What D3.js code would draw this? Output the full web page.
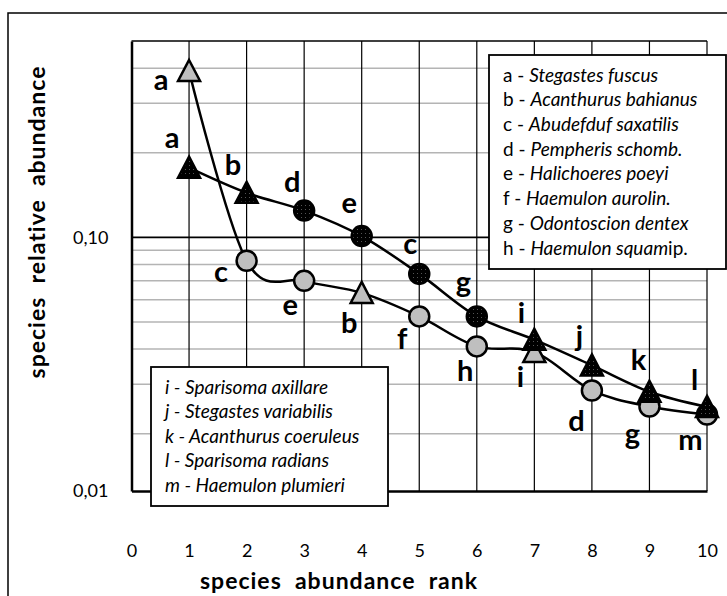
<!DOCTYPE html>
<html><head><meta charset="utf-8">
<script src="https://cdn.jsdelivr.net/npm/d3@7/dist/d3.min.js"></script>
<style>
html,body{margin:0;padding:0;background:#fff;}
svg{display:block;font-family:Lato,"Noto Sans",sans-serif;}
</style></head>
<body>
<svg id="chart" width="727" height="596"></svg>
<script>
// ---- data ----
const ranks = [1,2,3,4,5,6,7,8,9,10];
const seriesDarkValues  = [0.177,0.144,0.1245,0.101,0.0741,0.0523,0.0432,0.0350,0.0282,0.0249];
const seriesDarkLabels  = ["a","b","d","e","c","g","i","j","k","l"];
const seriesDarkShapes  = ["tri","tri","circ","circ","circ","circ","tri","tri","tri","tri"];
const seriesGrayValues  = [0.391,0.0825,0.0700,0.0634,0.0523,0.0409,0.0391,0.0285,0.0250,0.0234];
const seriesGrayLabels  = ["a","c","e","b","f","h","i","d","g","m"];
const seriesGrayShapes  = ["tri","circ","circ","tri","circ","circ","tri","circ","circ","circ"];
const xTickValues = [0,1,2,3,4,5,6,7,8,9,10];
const xTickLabels = ["0","1","2","3","4","5","6","7","8","9","10"];
const yTickValues = [0.0125,0.1];
const yTickLabels = ["0,01","0,10"];
const yMinorGrid = [0.02,0.03,0.04,0.05,0.06,0.07,0.08,0.09,0.2,0.3,0.4];
const yMajorGrid = [0.1];
const legend1Codes = ["a","b","c","d","e","f","g","h"];
const legend1Names = ["Stegastes fuscus","Acanthurus bahianus","Abudefduf saxatilis","Pempheris schomb.","Halichoeres poeyi","Haemulon aurolin.","Odontoscion dentex","Haemulon squam"];
const legend1Suffix = ["","","","","","","","ip."];
const legend2Codes = ["i","j","k","l","m"];
const legend2Names = ["Sparisoma axillare","Stegastes variabilis","Acanthurus coeruleus","Sparisoma radians","Haemulon plumieri"];
const xTitle = "species  abundance  rank";
const yTitle = "species  relative  abundance";

// ---- layout (pixels) ----
const plot = {left:131.5, right:707, top:41, bottom:491};
const darkLabelOffsets = [[-17,-20],[-13.5,-18],[-12,-19],[-12.5,-23],[-9,-20],[-13.5,-24],[-13,-17],[-12.5,-19.5],[-11,-22],[-12.5,-17]];
const grayLabelOffsets = [[-28,19],[-25.5,21],[-14,34],[-12.5,40],[-17,33],[-11.5,35],[-14,35],[-15.5,41],[-17,38],[-16.5,35]];

const svg = d3.select("#chart");
const x = d3.scaleLinear().domain([0,10]).range([plot.left, plot.right]);
const y = d3.scaleLog().domain([0.0125,0.5]).range([plot.bottom, plot.top]);

// pattern for dark markers
const defs = svg.append("defs");
const pat = defs.append("pattern").attr("id","dots").attr("width",4).attr("height",4).attr("patternUnits","userSpaceOnUse");
pat.append("rect").attr("width",4).attr("height",4).attr("fill","#000");
pat.append("rect").attr("x",1).attr("y",1).attr("width",1).attr("height",1).attr("fill","#555");

// outer chart border
svg.append("rect").attr("x",8).attr("y",13).attr("width",740).attr("height",620)
  .attr("fill","#fff").attr("stroke","#000").attr("stroke-width",1.5);

// grid
const g = svg.append("g");
g.selectAll("line.minor").data(yMinorGrid).join("line").attr("class","minor")
  .attr("x1",plot.left).attr("x2",plot.right).attr("y1",d=>y(d)).attr("y2",d=>y(d))
  .attr("stroke","#b4b4b4").attr("stroke-width",1.5);
g.selectAll("line.vgrid").data(xTickValues.filter(v=>v>0)).join("line").attr("class","vgrid")
  .attr("x1",d=>x(d)).attr("x2",d=>x(d)).attr("y1",plot.top).attr("y2",plot.bottom)
  .attr("stroke","#000").attr("stroke-width",1.2);
g.selectAll("line.major").data(yMajorGrid).join("line").attr("class","major")
  .attr("x1",plot.left).attr("x2",plot.right).attr("y1",d=>y(d)).attr("y2",d=>y(d))
  .attr("stroke","#000").attr("stroke-width",1.8);
g.append("line").attr("x1",plot.left).attr("x2",plot.right).attr("y1",plot.top).attr("y2",plot.top)
  .attr("stroke","#000").attr("stroke-width",1.5);

// axes
const xAxis = d3.axisBottom(x).tickValues(xTickValues).tickFormat((d,i)=>xTickLabels[i]).tickSize(0).tickPadding(66);
const gx = svg.append("g").attr("transform",`translate(0,${plot.bottom})`).call(xAxis);
gx.select(".domain").attr("stroke","#000").attr("stroke-width",2.5);
gx.selectAll("text").attr("font-size",18).attr("fill","#000").attr("font-family","Lato,sans-serif").attr("dy","0");
const yAxis = d3.axisLeft(y).tickValues(yTickValues).tickFormat((d,i)=>yTickLabels[i]).tickSize(0).tickPadding(23);
const gy = svg.append("g").attr("transform",`translate(${plot.left},0)`).call(yAxis);
gy.select(".domain").attr("stroke","#000").attr("stroke-width",2.5);
gy.selectAll("text").attr("font-size",18).attr("fill","#000").attr("font-family","Lato,sans-serif");

// titles
svg.append("text").attr("x",339).attr("y",589).attr("text-anchor","middle")
  .attr("font-size",23).attr("font-weight","bold").attr("letter-spacing",1).style("white-space","pre").text(xTitle);
svg.append("text").attr("transform","translate(45,222) rotate(-90)").attr("text-anchor","middle")
  .attr("font-size",23).attr("font-weight","bold").attr("letter-spacing",1).style("white-space","pre").text(yTitle);

// lines
const line = d3.line().x(d=>x(d[0])).y(d=>y(d[1])).curve(d3.curveCardinal.tension(0));
const darkPts = ranks.map((r,i)=>[r,seriesDarkValues[i]]);
const grayPts = ranks.map((r,i)=>[r,seriesGrayValues[i]]);
svg.append("path").attr("d",line(grayPts)).attr("fill","none").attr("stroke","#000").attr("stroke-width",2.5);
svg.append("path").attr("d",line(darkPts)).attr("fill","none").attr("stroke","#000").attr("stroke-width",2.5);

function drawMarkers(pts, shapes, fill){
  const mg = svg.append("g");
  pts.forEach((p,i)=>{
    const cx = x(p[0]), cy = y(p[1]);
    if(shapes[i]==="circ"){
      mg.append("circle").attr("cx",cx).attr("cy",cy).attr("r",10)
        .attr("fill",fill).attr("stroke","#000").attr("stroke-width",2.5);
    } else {
      const h=20, w=22;
      mg.append("path").attr("d",`M${cx},${cy-h/2-1}L${cx+w/2},${cy+h/2}L${cx-w/2},${cy+h/2}Z`)
        .attr("fill",fill).attr("stroke","#000").attr("stroke-width",2.5).attr("stroke-linejoin","miter");
    }
  });
}
drawMarkers(grayPts, seriesGrayShapes, "#bfbfbf");
drawMarkers(darkPts, seriesDarkShapes, "url(#dots)");

// point labels
function drawLabels(pts, labels, offs){
  svg.append("g").selectAll("text").data(pts).join("text")
    .attr("x",(d,i)=>x(d[0])+offs[i][0]).attr("y",(d,i)=>y(d[1])+offs[i][1])
    .attr("text-anchor","middle").attr("font-size",29).attr("font-weight","bold")
    .text((d,i)=>labels[i]);
}
drawLabels(darkPts, seriesDarkLabels, darkLabelOffsets);
drawLabels(grayPts, seriesGrayLabels, grayLabelOffsets);

// legend 1
const l1 = svg.append("g");
l1.append("rect").attr("x",489).attr("y",55).attr("width",237).attr("height",214)
  .attr("fill","#fff").attr("stroke","#000").attr("stroke-width",1.8);
legend1Codes.forEach((c,i)=>{
  const t = l1.append("text").attr("x",503).attr("y",75+i*24.7).attr("dy","0.35em").attr("font-size",19);
  t.append("tspan").text(c+" - ");
  t.append("tspan").attr("font-style","italic").text(legend1Names[i]);
  if(legend1Suffix[i]) t.append("tspan").text(legend1Suffix[i]);
});

// legend 2
const l2 = svg.append("g");
l2.append("rect").attr("x",151).attr("y",367).attr("width",237).attr("height",139)
  .attr("fill","#fff").attr("stroke","#000").attr("stroke-width",1.8);
legend2Codes.forEach((c,i)=>{
  const t = l2.append("text").attr("x",165).attr("y",387+i*24.5).attr("dy","0.35em").attr("font-size",19)
    .attr("font-style","italic");
  t.append("tspan").text(c+" - ");
  t.append("tspan").text(legend2Names[i]);
});
</script>
</body></html>
